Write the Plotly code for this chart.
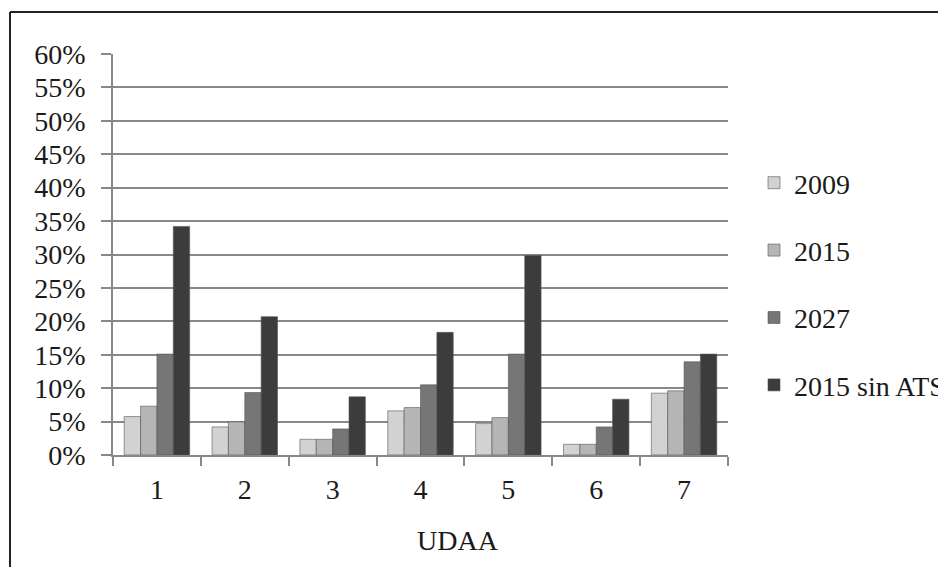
import plotly.graph_objects as go

categories = ["1", "2", "3", "4", "5", "6", "7"]
series_names = ["2009", "2015", "2027", "2015 sin ATS"]
v2009 = [5.75, 4.2, 2.35, 6.6, 4.7, 1.6, 9.25]
v2015 = [7.3, 4.95, 2.35, 7.1, 5.6, 1.6, 9.6]
v2027 = [15.1, 9.35, 3.9, 10.5, 15.1, 4.2, 13.95]
v2015_sin_ats = [34.2, 20.7, 8.7, 18.35, 29.85, 8.35, 15.1]
y_ticks = [0, 5, 10, 15, 20, 25, 30, 35, 40, 45, 50, 55, 60]
y_tick_labels = [f"{t}%" for t in y_ticks]
x_title = "UDAA"

colors = ["#d2d2d2", "#b5b5b5", "#767676", "#3c3c3c"]
values = [v2009, v2015, v2027, v2015_sin_ats]

FONT = "Liberation Serif, Times New Roman, serif"
FS = 28

fig = go.Figure()
for i, (name, vals, col) in enumerate(zip(series_names, values, colors)):
    fig.add_trace(go.Bar(
        x=categories, y=vals, name=name,
        marker=dict(color=col, line=dict(color="#555555", width=0.6)),
        legendgroup=f"g{i}",
    ))

# page body has an 8px margin, so figure coords = screen coords - 8
OFF = 8
W, H = 946, 567
L = 113 - OFF
T = 54 - OFF
PR = 728 - OFF   # plot right edge in figure coords
PB = 455 - OFF   # plot bottom edge in figure coords
R = W - PR
B = H - PB
PW = W - L - R
PH = H - T - B

fig.update_layout(
    width=W, height=H,
    margin=dict(l=L, r=R, t=T, b=B, pad=0, autoexpand=False),
    paper_bgcolor="white", plot_bgcolor="white",
    barmode="group", bargap=0.255, bargroupgap=0,
    font=dict(family=FONT, size=FS, color="#1a1a1a"),
    showlegend=True,
    legend=dict(
        xref="container", yref="container",
        x=(754 - OFF) / W, xanchor="left",
        y=1 - (158 - OFF) / H, yanchor="top",
        traceorder="grouped", tracegroupgap=28,
        font=dict(family=FONT, size=28, color="#1a1a1a"),
        bgcolor="rgba(0,0,0,0)", itemwidth=30,
    ),
    xaxis=dict(
        type="category",
        showline=True, linecolor="#888888", linewidth=1.5,
        ticks="outside", tickson="boundaries", ticklen=9,
        tickcolor="#888888", tickwidth=1.5,
        ticklabelstandoff=9,
        tickfont=dict(family=FONT, size=FS),
        showgrid=False,
    ),
    yaxis=dict(
        range=[0, 60], tickvals=y_ticks, ticktext=y_tick_labels,
        showline=True, linecolor="#888888", linewidth=1.5,
        ticks="outside", ticklen=10, tickcolor="#888888", tickwidth=1.5,
        showgrid=True, gridcolor="#888888", gridwidth=1.5,
        zeroline=False,
        ticklabelstandoff=10,
        tickfont=dict(family=FONT, size=FS),
    ),
)

# x axis title (placed right of centre, as in the reference)
fig.add_annotation(
    text=x_title, showarrow=False,
    xref="paper", yref="paper",
    x=(458 - OFF - L) / PW, xanchor="center",
    y=-(540 - OFF - (T + PH)) / PH, yanchor="middle",
    font=dict(family=FONT, size=FS, color="#1a1a1a"),
)

# outer border (top and left edges visible in the reference)
bx = (10 - OFF - L) / PW
by = 1 + (T - (12 - OFF)) / PH
fig.add_shape(type="line", xref="paper", yref="paper",
              x0=bx, x1=(W + 5 - L) / PW, y0=by, y1=by,
              line=dict(color="#222222", width=2))
fig.add_shape(type="line", xref="paper", yref="paper",
              x0=bx, x1=bx, y0=by, y1=-(B + 5) / PH,
              line=dict(color="#222222", width=2))

fig.write_html("out.html")
